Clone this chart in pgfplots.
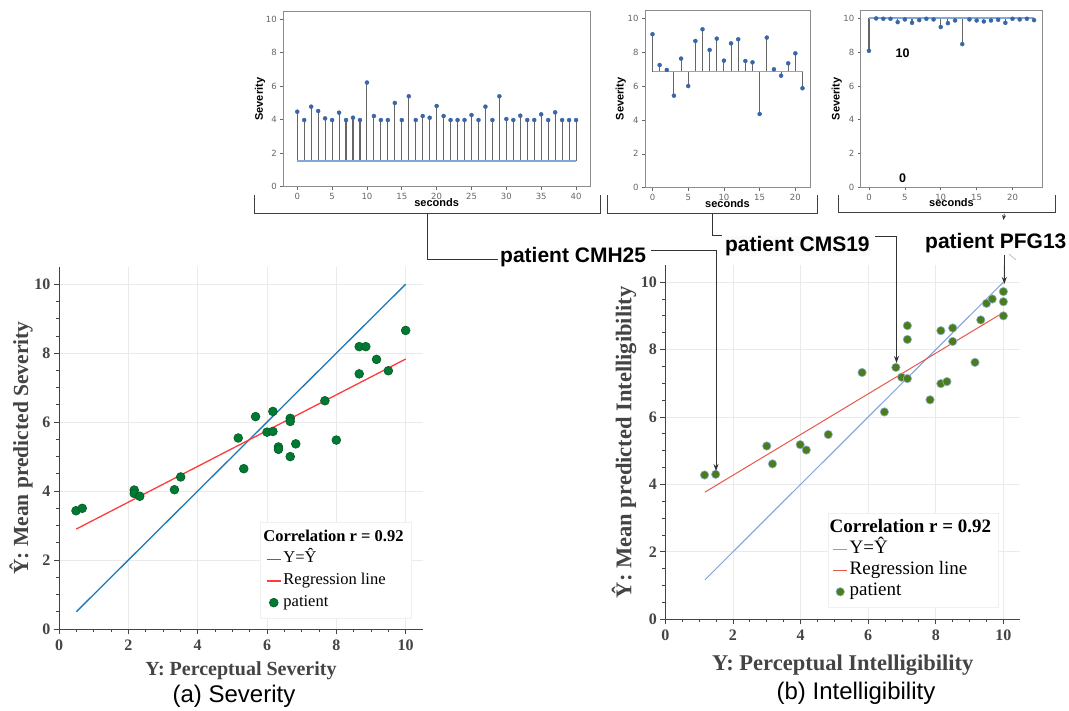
\documentclass[border=0pt]{standalone}
\usepackage{pgfplots}
\pgfplotsset{compat=1.18}
\usepackage{pgfplotstable}
\usepackage{fontspec}
\setmainfont{Liberation Serif}
\setsansfont{Liberation Sans}
\newfontfamily\djsans{DejaVu Sans}
\usetikzlibrary{arrows.meta}

\definecolor{axgray}{HTML}{444444}
\definecolor{gridgray}{HTML}{EAEAEA}
\definecolor{agreen}{HTML}{007A33}
\definecolor{agreenedge}{HTML}{005C26}
\definecolor{ablue}{HTML}{1F77B4}
\definecolor{ared}{HTML}{FF3B3B}
\definecolor{bgreen}{HTML}{4B7D1B}
\definecolor{bedge}{HTML}{8FAFD6}
\definecolor{bblue}{HTML}{7F9FD5}
\definecolor{bred}{HTML}{E8584A}
\definecolor{stemgray}{HTML}{666666}
\definecolor{stemblue}{HTML}{3A66A8}
\definecolor{baseblue}{HTML}{7FA8D8}
\definecolor{framegray}{HTML}{8C8C8C}

% stem plots (seconds vs severity)
\pgfplotstableread{
x y
0 4.48
1 3.98
2 4.78
3 4.52
4 4.08
5 3.98
6 4.42
7 3.98
8 4.12
9 3.98
10 6.22
11 4.22
12 3.98
13 3.98
14 5.00
15 3.98
16 5.40
17 3.98
18 4.22
19 4.12
20 4.82
21 4.22
22 3.98
23 3.98
24 3.98
25 4.28
26 3.98
27 4.78
28 3.98
29 5.40
30 4.04
31 3.98
32 4.24
33 3.98
34 3.98
35 4.32
36 3.98
37 4.44
38 3.98
39 3.98
40 3.98
}\stemA

\pgfplotstableread{
x y
0 9.06
1 7.24
2 6.95
3 5.43
4 7.62
5 6.00
6 8.66
7 9.35
8 8.13
9 8.80
10 7.50
11 8.52
12 8.76
13 7.48
14 7.40
15 4.35
16 8.86
17 6.99
18 6.61
19 7.34
20 7.93
21 5.87
}\stemB

\pgfplotstableread{
x y
0 8.08
1 10.00
2 9.98
3 9.98
4 9.78
5 9.94
6 9.74
7 9.90
8 9.98
9 9.94
10 9.49
11 9.72
12 9.88
13 8.48
14 9.94
15 9.88
16 9.82
17 9.88
18 9.92
19 9.74
20 9.98
21 9.94
22 9.98
23 9.90
}\stemC

% perceptual vs predicted
\pgfplotstableread{
x y
0.49 3.43
0.67 3.50
2.17 4.03
2.17 3.93
2.33 3.85
3.33 4.04
3.51 4.41
5.17 5.54
5.33 4.65
5.67 6.16
6.00 5.71
6.17 5.73
6.17 6.31
6.33 5.28
6.33 5.21
6.67 6.11
6.67 6.02
6.67 5.00
6.83 5.37
7.67 6.62
8.00 5.48
8.66 8.19
8.85 8.19
8.66 7.40
9.16 7.82
9.50 7.49
10.00 8.66
}\sevdata

\pgfplotstableread{
x y
1.16 4.28
1.49 4.30
3.00 5.14
3.17 4.61
3.99 5.18
4.17 5.02
4.82 5.48
5.82 7.32
6.48 6.15
6.82 7.47
6.99 7.18
7.16 7.14
7.16 8.30
7.16 8.71
7.83 6.51
8.15 8.56
8.15 6.99
8.33 7.05
8.50 8.64
8.50 8.24
9.16 7.62
9.33 8.88
9.50 9.37
9.67 9.50
10.00 9.72
10.00 9.42
10.00 9.00
}\intdata

\pgfplotsset{
  stemplot/.style={
    scale only axis, anchor=south west,
    ymin=0, ytick={0,2,...,10},
    axis line style={draw=framegray, line width=0.8pt},
    tick align=outside, xtick pos=bottom, ytick pos=left,
    major tick length=3pt,
    tick style={draw=gray!80!black, line width=0.6pt},
    ticklabel style={font=\djsans\fontsize{8.5}{9}\selectfont, text=gray!80!black},
    /pgf/number format/assume math mode=true,
    xlabel={seconds}, ylabel={Severity},
    label style={font=\sffamily\bfseries\fontsize{11}{12}\selectfont},
    xlabel style={at={(rel axis cs:0.5,0)}, anchor=base, yshift=-19.5pt},
  },
  bigplot/.style={
    scale only axis, anchor=south west,
    xmin=0, xmax=10.5, ymin=0, ymax=10.5,
    axis x line*=bottom, axis y line*=left,
    axis line style={draw=axgray, line width=0.9pt},
    xtick={0,2,...,10}, ytick={0,2,...,10},
    minor tick num=3,
    tick align=outside,
    major tick length=5pt, minor tick length=3pt,
    tick style={draw=axgray, line width=0.8pt},
    grid=major, major grid style={draw=gridgray, line width=0.8pt},
    ticklabel style={font=\bfseries\fontsize{16}{16}\selectfont, text=axgray},
    xticklabel style={yshift=-2pt},
    /pgf/number format/assume math mode=true,
    label style={font=\bfseries\fontsize{20}{22}\selectfont, text=axgray},
    legend cell align=left,
    legend image code/.code={\draw[mark repeat=2,mark phase=2,#1] plot coordinates {(0pt,0pt) (7pt,0pt) (14pt,0pt)};},
  },
}

\begin{document}
\begin{tikzpicture}[x=1pt,y=1pt]
\fill[white] (0,0) rectangle (1069,711);
\path[use as bounding box] (0,0) rectangle (1069,711);

% ---- top stem plots
\begin{axis}[stemplot, at={(283.3pt,524.3pt)}, width=306.7pt, height=175pt,
  xmin=-2, xmax=42, ymax=10.45, xtick={0,5,...,40},
  ylabel style={at={(rel axis cs:-0.076,0.5)}, anchor=center}]
\addplot[draw=stemgray, line width=1.1pt, quiver={u=0, v=1.53-\thisrow{y}}] table[x=x, y=y] {\stemA};
\addplot[baseblue, line width=1.2pt] coordinates {(0,1.53) (40,1.53)};
\addplot[only marks, mark=*, mark size=2pt, mark options={fill=stemblue, draw=stemblue}] table[x=x, y=y] {\stemA};
\end{axis}

\begin{axis}[stemplot, at={(645pt,523.3pt)}, width=165pt, height=177.7pt,
  xmin=-1.05, xmax=22.05, ymax=10.49, xtick={0,5,...,20},
  ylabel style={at={(rel axis cs:-0.147,0.5)}, anchor=center}]
\addplot[draw=stemgray, line width=1.1pt, quiver={u=0, v=6.85-\thisrow{y}}] table[x=x, y=y] {\stemB};
\addplot[baseblue, line width=1.2pt] coordinates {(0,6.85) (21,6.85)};
\addplot[only marks, mark=*, mark size=2pt, mark options={fill=stemblue, draw=stemblue}] table[x=x, y=y] {\stemB};
\end{axis}

\begin{axis}[stemplot, at={(860.7pt,523.7pt)}, width=181.6pt, height=177.3pt,
  xmin=-1.15, xmax=24.15, ymax=10.5, xtick={0,5,...,20},
  ylabel style={at={(rel axis cs:-0.132,0.5)}, anchor=center}]
\addplot[draw=stemgray, line width=1.1pt, quiver={u=0, v=10.02-\thisrow{y}}] table[x=x, y=y] {\stemC};
\addplot[baseblue, line width=1.2pt] coordinates {(0,10.02) (23,10.02)};
\addplot[only marks, mark=*, mark size=2pt, mark options={fill=stemblue, draw=stemblue}] table[x=x, y=y] {\stemC};
\node[font=\sffamily\bfseries\fontsize{12.5}{13}\selectfont] at (axis cs:4.7,7.93) {10};
\node[font=\sffamily\bfseries\fontsize{12.5}{13}\selectfont] at (axis cs:4.7,0.53) {0};
\end{axis}

% ---- (a) severity
\begin{axis}[bigplot, at={(59pt,82pt)}, width=364pt, height=362pt,
  xlabel={Y: Perceptual Severity}, ylabel={Ŷ: Mean predicted Severity},
  xlabel style={at={(rel axis cs:0.5,0)}, anchor=base, yshift=-47pt},
  ylabel style={at={(rel axis cs:-0.104,0.5)}, anchor=center, font=\bfseries\fontsize{21.5}{23}\selectfont},
  legend style={at={(0.552,0.296)}, anchor=north west, draw=gray!12, fill=white,
    font=\fontsize{16.5}{18}\selectfont, inner sep=6pt, row sep=2.7pt,
    nodes={inner sep=2pt, text height=11pt, text depth=4pt}}]
\addlegendimage{empty legend}
\addlegendentry{\hspace*{-20pt}\textbf{Correlation r = 0.92}}
\addplot[ablue, line width=1.3pt] coordinates {(0.5,0.5) (10,10)};
\addlegendentry{Y=Ŷ}
\addplot[ared, line width=1.3pt] coordinates {(0.5,2.90) (10,7.83)};
\addlegendentry{Regression line}
\addplot[only marks, mark=*, mark size=4.4pt, mark options={fill=agreen, draw=agreenedge, line width=0.6pt}] table[x=x, y=y] {\sevdata};
\addlegendentry{patient}
\end{axis}

% ---- (b) intelligibility
\begin{axis}[bigplot, at={(665.3pt,91.7pt)}, width=355pt, height=354pt,
  xlabel={Y: Perceptual Intelligibility}, ylabel={Ŷ: Mean predicted Intelligibility},
  label style={font=\bfseries\fontsize{22.5}{24}\selectfont},
  xlabel style={at={(rel axis cs:0.5,0)}, anchor=base, yshift=-51pt},
  ylabel style={at={(rel axis cs:-0.116,0.5)}, anchor=center},
  legend style={at={(0.457,0.30)}, anchor=north west, draw=gray!12, fill=white,
    font=\fontsize{19}{21}\selectfont, inner sep=5pt, row sep=0pt,
    nodes={inner sep=2pt, text height=12.5pt, text depth=4.5pt}}]
\addlegendimage{empty legend}
\addlegendentry{\hspace*{-20pt}\textbf{Correlation r = 0.92}}
\addplot[bblue, line width=1pt] coordinates {(1.17,1.17) (10,10)};
\addlegendentry{Y=Ŷ}
\addplot[bred, line width=1pt] coordinates {(1.17,3.77) (10,9.10)};
\addlegendentry{Regression line}
\addplot[only marks, mark=*, mark size=4.2pt, mark options={fill=bgreen, draw=bedge, line width=0.6pt}] table[x=x, y=y] {\intdata};
\addlegendentry{patient}
\end{axis}

% ---- brackets and callouts
\draw[gray!50!black, line width=0.8pt] (254.3,516) -- (254.3,497.7) -- (600.7,497.7) -- (600.7,516);
\draw[gray!50!black, line width=0.8pt] (607.7,516) -- (607.7,497.7) -- (817.3,497.7) -- (817.3,516);
\draw[gray!50!black, line width=0.8pt] (838.7,516) -- (838.7,498.7) -- (1055,498.7) -- (1055,516);

\draw[black!80, line width=0.8pt] (427.7,497.7) -- (427.7,451.7) -- (498,451.7);
\draw[black!80, line width=0.8pt, -{Stealth[length=7pt,width=5pt]}] (651,460.3) -- (716,460.3) -- (716,240);
\draw[black!80, line width=0.8pt] (712.3,497.7) -- (712.3,476) -- (722,476);
\draw[black!80, line width=0.8pt, -{Stealth[length=7pt,width=5pt]}] (875,474.3) -- (896.5,474.3) -- (896.5,348);
\draw[black!80, line width=0.8pt, -{Stealth[length=5pt,width=4pt]}] (1004.3,497) -- (1003.3,491);
\draw[black!80, line width=0.8pt, -{Stealth[length=7pt,width=5pt]}] (1004.3,456) -- (1004.3,427);
\draw[gray!60, line width=0.6pt] (1009,457) -- (1016,451);

\node[anchor=base west, inner sep=0pt, font=\sffamily\bfseries\fontsize{21}{23}\selectfont] at (500,448) {patient CMH25};
\node[anchor=base west, inner sep=0pt, fill=gray!4, outer sep=0pt, font=\sffamily\bfseries\fontsize{21}{23}\selectfont] at (725,459.3) {patient CMS19};
\node[anchor=base west, inner sep=0pt, font=\sffamily\bfseries\fontsize{21}{23}\selectfont] at (925,462.7) {patient PFG13};

\node[anchor=base, font=\sffamily\fontsize{24}{26}\selectfont] at (234,8) {(a) Severity};
\node[anchor=base, font=\sffamily\fontsize{24}{26}\selectfont] at (856,11) {(b) Intelligibility};
\end{tikzpicture}
\end{document}
